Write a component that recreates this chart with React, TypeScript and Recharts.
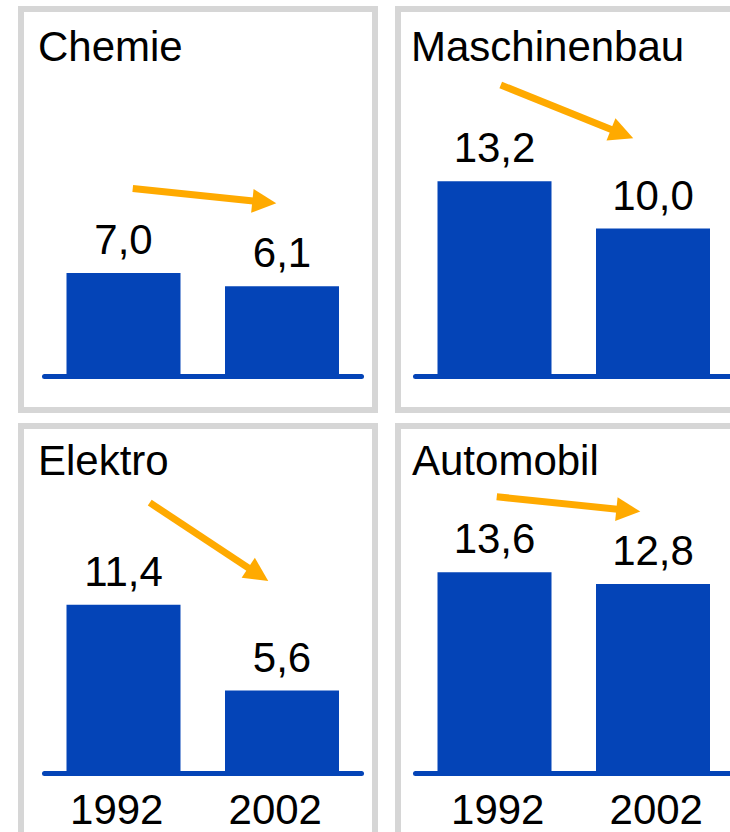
import { Bar, BarChart, LabelList, ReferenceLine, XAxis, YAxis } from "recharts";

const years = ["1992", "2002"];
const sectors = ["Chemie", "Maschinenbau", "Elektro", "Automobil"];
const chemie = [7.0, 6.1];
const maschinenbau = [13.2, 10.0];
const elektro = [11.4, 5.6];
const automobil = [13.6, 12.8];
// trend arrows, in bar units (start above 1992, tip above 2002)
const arrowStart = [12.7, 19.7, 18.3, 18.7];
const arrowEnd = [11.7, 16.1, 13.0, 17.7];

const sectorValues = [chemie, maschinenbau, elektro, automobil];

const BLUE = "#0444b7";
const ORANGE = "#ffaa00";
const BORDER = "#d6d6d6";
const FONT = "'Liberation Sans', Arial, sans-serif";
const TEXT_SIZE = 42;

// page layout of the four panels
const panels = [
  { boxX: 18, boxY: 6, chartX: 0, chartY: 0, titleX: 38, titleY: 61, arrowDx: [9, -6], tickDx: 0, years: false },
  { boxX: 395, boxY: 6, chartX: 371, chartY: 0, titleX: 411, titleY: 61, arrowDx: [6, -20], tickDx: 0, years: false },
  { boxX: 18, boxY: 423, chartX: 0, chartY: 396.5, titleX: 38, titleY: 475, arrowDx: [26, -14], tickDx: -7, years: true },
  { boxX: 395, boxY: 423, chartX: 371, chartY: 396.5, titleX: 412, titleY: 475, arrowDx: [2, -13], tickDx: 3, years: true },
];

const fmt = (v: any) => Number(v).toFixed(1).replace(".", ",");

function arrowShape(dx: number[]) {
  return (props: any) => {
    const { x1, y1, x2, y2 } = props;
    if (x1 == null || x2 == null) return null;
    const sx = x1 + dx[0];
    const ex = x2 + dx[1];
    const a = Math.atan2(y2 - y1, ex - sx);
    const c = Math.cos(a);
    const s = Math.sin(a);
    const len = 24;
    const half = 12;
    const bx = ex - len * c;
    const by = y2 - len * s;
    const pts = `${ex},${y2} ${bx - half * s},${by + half * c} ${bx + half * s},${by - half * c}`;
    return (
      <g>
        <line x1={sx} y1={y1} x2={bx + c} y2={by + s} stroke={ORANGE} strokeWidth={7} />
        <polygon points={pts} fill={ORANGE} />
      </g>
    );
  };
}

function Panel({ index }: { index: number }) {
  const p = panels[index];
  const values = sectorValues[index];
  const data = years.map((year, i) => ({ year, value: values[i] }));
  return (
    <div style={{ position: "absolute", left: p.chartX, top: p.chartY }}>
      <BarChart
        width={378}
        height={440}
        data={data}
        margin={{ top: 80.5, right: 16.5, bottom: 0, left: 44.5 }}
      >
        <XAxis
          dataKey="year"
          height={63.5}
          axisLine={{ stroke: BLUE, strokeWidth: 5, strokeLinecap: "round" }}
          tickLine={false}
          tickSize={0}
          tickMargin={21}
          tick={p.years ? { fill: "#000", fontSize: TEXT_SIZE, dx: p.tickDx } : false}
        />
        <YAxis hide width={0} domain={[0, 20]} />
        <Bar dataKey="value" fill={BLUE} barSize={114} isAnimationActive={false}>
          <LabelList
            dataKey="value"
            position="top"
            offset={19}
            formatter={fmt}
            fill="#000"
            fontSize={TEXT_SIZE}
          />
        </Bar>
        <ReferenceLine
          ifOverflow="visible"
          segment={[
            { x: years[0], y: arrowStart[index] },
            { x: years[1], y: arrowEnd[index] },
          ]}
          shape={arrowShape(p.arrowDx)}
        />
      </BarChart>
    </div>
  );
}

export default function App() {
  return (
    <div
      style={{
        position: "absolute",
        left: 0,
        top: 0,
        width: 730,
        height: 832,
        overflow: "hidden",
        background: "#fff",
        fontFamily: FONT,
      }}
    >
      {panels.map((p, i) => (
        <div
          key={"box" + i}
          style={{
            position: "absolute",
            left: p.boxX,
            top: p.boxY,
            width: 360,
            height: p.years ? 440 : 407,
            boxSizing: "border-box",
            border: `6px solid ${BORDER}`,
          }}
        />
      ))}
      {panels.map((_, i) => (
        <Panel key={sectors[i]} index={i} />
      ))}
      <svg
        width={730}
        height={832}
        style={{ position: "absolute", left: 0, top: 0, pointerEvents: "none" }}
      >
        {panels.map((p, i) => (
          <text key={sectors[i]} x={p.titleX} y={p.titleY} fontSize={TEXT_SIZE} fill="#000" fontFamily={FONT}>
            {sectors[i]}
          </text>
        ))}
      </svg>
    </div>
  );
}
